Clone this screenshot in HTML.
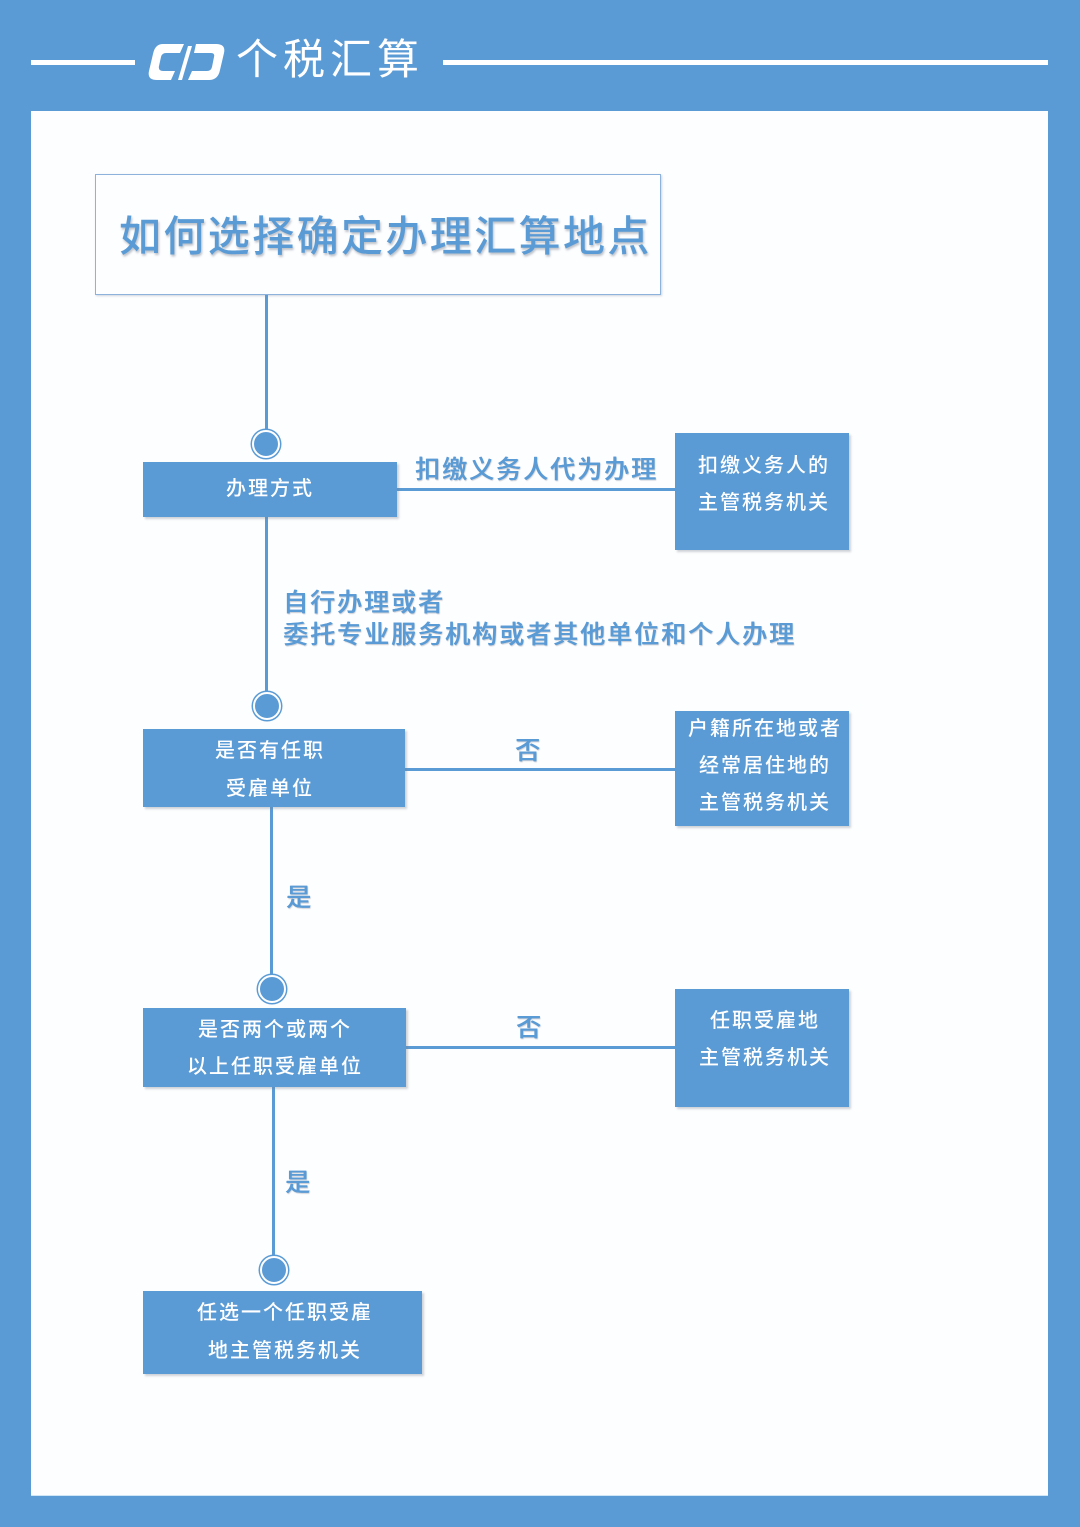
<!DOCTYPE html>
<html><head><meta charset="utf-8">
<style>
html,body{margin:0;padding:0}
body{width:1080px;height:1527px;background:#5b9bd5;position:relative;overflow:hidden;font-family:"Liberation Sans","Noto Sans CJK SC",sans-serif}
.abs{position:absolute}
.panel{left:31px;top:111px;width:1017px;height:1384px;background:#fdfeff;box-shadow:0 1px 0 #cfe6f7}
.hl{position:absolute;background:#fff}
.box{position:absolute;background:#5b9bd5;box-shadow:2px 2px 2px rgba(120,130,140,0.35);color:#fff}
.t{position:absolute;white-space:nowrap;color:#fff;font-size:20px;letter-spacing:2px;line-height:24px;transform:translate(-50%,-50%);font-weight:500}
.lab{position:absolute;white-space:nowrap;color:#5b9bd5;font-size:25px;letter-spacing:2px;line-height:30px;font-weight:500;text-shadow:0.5px 0 0 #5b9bd5,1px 1px 1px rgba(80,90,110,0.3)}
.v{position:absolute;background:#5b9bd5;width:3px}
.h{position:absolute;background:#5b9bd5;height:3px}
.c{position:absolute;width:24px;height:24px;border-radius:50%;background:#5b9bd5;border:2px solid #fff;box-shadow:0 0 0 1.5px #5b9bd5;transform:translate(-50%,-50%)}
</style></head>
<body>
<!-- header -->
<div class="hl" style="left:31px;top:60px;width:104px;height:5px"></div>
<div class="hl" style="left:443px;top:60px;width:605px;height:5px"></div>
<svg class="abs" style="left:148px;top:40px" width="78" height="44" viewBox="0 0 78 44">
  <path d="M15 4 H36 L32 13 H18 Q14 13 13 17 L11 26 Q10 31 15 31 H27 L23 40 H9 Q-1 40 1 31 L5 14 Q7 4 15 4 Z" fill="#fff"/>
  <path d="M40 6 L44 6 L34 40 L30 40 Z" fill="#fff"/>
  <path d="M48 4 H68 Q78 4 76 13 L72 30 Q70 40 61 40 H40 L44 31 H59 Q63 31 64 27 L66 17 Q67 13 63 13 H46 Z" fill="#fff"/>
</svg>
<div class="abs" style="left:236px;top:34px;color:#fff;font-size:42px;letter-spacing:5px;line-height:52px;white-space:nowrap">个税汇算</div>

<div class="abs panel"></div>

<!-- title box -->
<div class="abs" style="left:95px;top:174px;width:564px;height:119px;border:1.5px solid #8db3dc;background:#fdfeff;box-shadow:1px 1px 2px rgba(100,120,140,0.3)"></div>
<div class="abs" style="left:119px;top:210px;color:#5b9bd5;font-size:42px;letter-spacing:2.4px;line-height:54px;white-space:nowrap;font-weight:500;text-shadow:1px 2px 2px rgba(70,80,100,0.35)">如何选择确定办理汇算地点</div>

<!-- connectors -->
<div class="v" style="left:265px;top:295px;height:137px"></div>
<div class="c" style="left:266px;top:444px"></div>
<div class="v" style="left:265px;top:517px;height:177px"></div>
<div class="c" style="left:267px;top:706px"></div>
<div class="v" style="left:270px;top:807px;height:170px"></div>
<div class="c" style="left:272px;top:989px"></div>
<div class="v" style="left:272px;top:1087px;height:171px"></div>
<div class="c" style="left:274px;top:1270px"></div>

<div class="h" style="left:397px;top:488px;width:278px"></div>
<div class="h" style="left:405px;top:768px;width:270px"></div>
<div class="h" style="left:406px;top:1046px;width:269px"></div>

<!-- left boxes -->
<div class="box" style="left:143px;top:462px;width:254px;height:55px"></div>
<div class="t" style="left:270px;top:489px">办理方式</div>

<div class="box" style="left:143px;top:729px;width:262px;height:78px"></div>
<div class="t" style="left:270px;top:751px">是否有任职</div>
<div class="t" style="left:270px;top:789px">受雇单位</div>

<div class="box" style="left:143px;top:1008px;width:263px;height:79px"></div>
<div class="t" style="left:275px;top:1030px">是否两个或两个</div>
<div class="t" style="left:275px;top:1067px">以上任职受雇单位</div>

<div class="box" style="left:143px;top:1291px;width:279px;height:83px"></div>
<div class="t" style="left:285px;top:1313px">任选一个任职受雇</div>
<div class="t" style="left:285px;top:1351px">地主管税务机关</div>

<!-- right boxes -->
<div class="box" style="left:675px;top:433px;width:174px;height:117px"></div>
<div class="t" style="left:764px;top:466px">扣缴义务人的</div>
<div class="t" style="left:764px;top:503px">主管税务机关</div>

<div class="box" style="left:675px;top:711px;width:174px;height:115px"></div>
<div class="t" style="left:765px;top:729px">户籍所在地或者</div>
<div class="t" style="left:765px;top:766px">经常居住地的</div>
<div class="t" style="left:765px;top:803px">主管税务机关</div>

<div class="box" style="left:675px;top:989px;width:174px;height:118px"></div>
<div class="t" style="left:765px;top:1021px">任职受雇地</div>
<div class="t" style="left:765px;top:1058px">主管税务机关</div>

<!-- labels -->
<div class="lab" style="left:415px;top:455px">扣缴义务人代为办理</div>
<div class="lab" style="left:283px;top:588px">自行办理或者</div>
<div class="lab" style="left:283px;top:620px">委托专业服务机构或者其他单位和个人办理</div>
<div class="lab" style="left:515px;top:736px">否</div>
<div class="lab" style="left:286px;top:883px">是</div>
<div class="lab" style="left:516px;top:1013px">否</div>
<div class="lab" style="left:285px;top:1168px">是</div>
</body></html>
